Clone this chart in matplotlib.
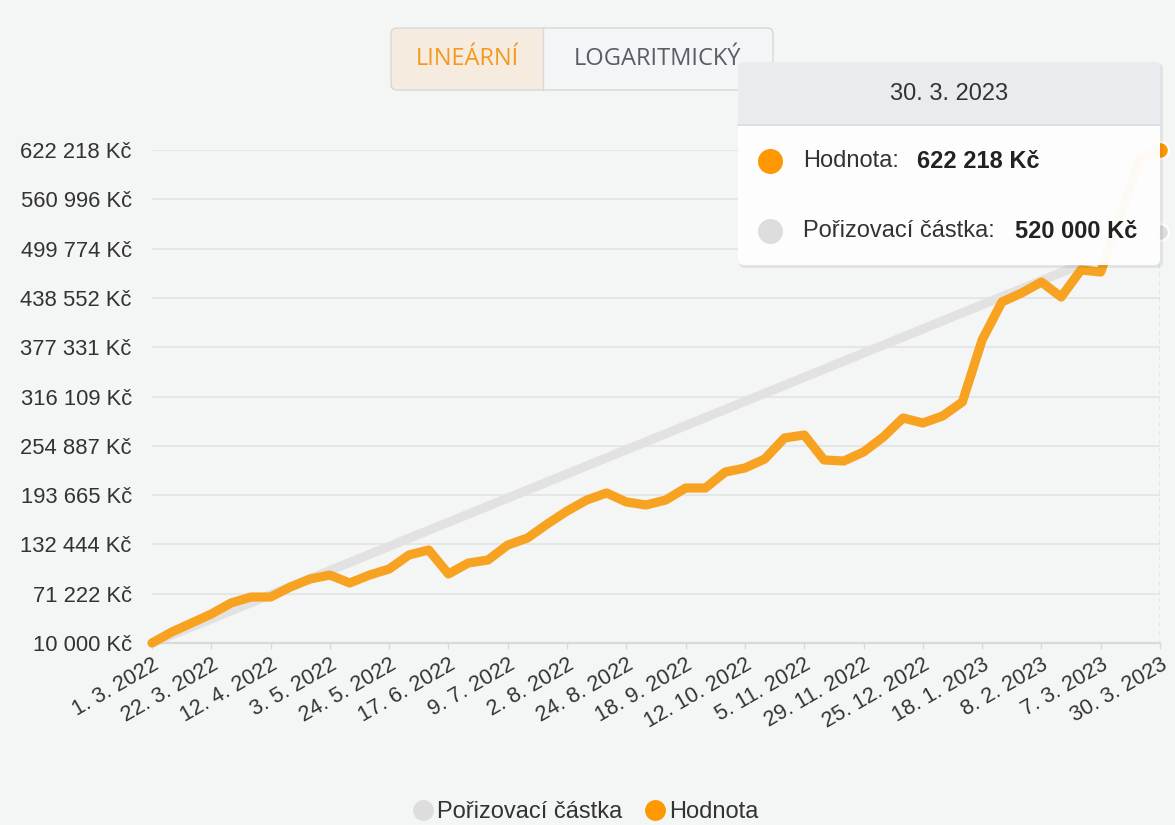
import matplotlib
matplotlib.use('Agg')
import numpy as np
import matplotlib.pyplot as plt
from matplotlib.lines import Line2D
from matplotlib.patches import FancyBboxPatch, Rectangle
from matplotlib.transforms import IdentityTransform

# ------------------------------------------
# Data: weekly portfolio value vs. invested amount (CZK)
# ------------------------------------------
date_labels = [
    '1. 3. 2022', '22. 3. 2022', '12. 4. 2022', '3. 5. 2022', '24. 5. 2022',
    '17. 6. 2022', '9. 7. 2022', '2. 8. 2022', '24. 8. 2022', '18. 9. 2022',
    '12. 10. 2022', '5. 11. 2022', '29. 11. 2022', '25. 12. 2022',
    '18. 1. 2023', '8. 2. 2023', '7. 3. 2023', '30. 3. 2023',
]
label_every = 3  # one date label per three weekly points
tooltip_date = '30. 3. 2023'

hodnota = [
    10000, 23700, 34800, 46000, 59700, 67100, 67100, 79500, 89500, 94400,
    84500, 94400, 101900, 119300, 125500, 95700, 109300, 113100, 131700, 140400,
    157800, 173900, 187600, 196300, 185100, 181400, 187600, 202500, 202500, 222300,
    227300, 238500, 264600, 268300, 237300, 236000, 247200, 265800, 289400, 283200,
    291900, 309300, 386300, 433500, 444600, 458300, 439700, 473200, 470700, 541500,
    612000, 622218,
]

porizovaci_castka = [
    10000, 20000, 30000, 40000, 50000, 60000, 70000, 80000, 90000, 100000,
    110000, 120000, 130000, 140000, 150000, 160000, 170000, 180000, 190000, 200000,
    210000, 220000, 230000, 240000, 250000, 260000, 270000, 280000, 290000, 300000,
    310000, 320000, 330000, 340000, 350000, 360000, 370000, 380000, 390000, 400000,
    410000, 420000, 430000, 440000, 450000, 460000, 470000, 480000, 490000, 500000,
    510000, 520000,
]

y_ticks = [10000, 71222, 132444, 193665, 254887, 316109, 377331, 438552,
           499774, 560996, 622218]


def kc(v):
    return f'{v:,.0f}'.replace(',', ' ') + ' Kč'


plt.rcParams['font.family'] = ['Liberation Sans', 'DejaVu Sans']

W, H = 1175, 825
ORANGE = '#f8a221'
ORANGE_DOT = '#ff9800'
GREY = '#e2e2e2'
GREY_DOT = '#dddddd'
TEXT = '#333333'
px = IdentityTransform()  # pixel coordinates, origin bottom-left

fig = plt.figure(figsize=(W / 100, H / 100), dpi=100, facecolor='#f4f5f5')
ax = fig.add_axes([152 / W, 1 - 643 / H, (1160 - 152) / W, (643 - 150) / H])
ax.set_facecolor('none')

x = np.arange(len(hodnota))

ax.plot(x, porizovaci_castka, color=GREY, lw=6.6, solid_capstyle='round',
        solid_joinstyle='round', clip_on=False, zorder=2)
ax.plot(x, hodnota, color=ORANGE, lw=6.6, solid_capstyle='round',
        solid_joinstyle='round', clip_on=False, zorder=3)

# hovered point
ax.axvline(x[-1], color='#a9a9a9', lw=1, ls=(0, (3, 3)), zorder=1)
ax.plot(x[-1], porizovaci_castka[-1], 'o', ms=12, color=GREY_DOT, mec='white',
        mew=1.5, clip_on=False, zorder=4)
ax.plot(x[-1], hodnota[-1], 'o', ms=12, color=ORANGE_DOT, mec='white',
        mew=1.5, clip_on=False, zorder=4)

ax.set_xlim(0, len(hodnota) - 1)
ax.set_ylim(y_ticks[0], y_ticks[-1])
ax.set_yticks(y_ticks)
ax.set_yticklabels([kc(v) for v in y_ticks])
ax.set_xticks(x[::label_every])
ax.set_xticklabels(date_labels, rotation=30, ha='right', va='top',
                   rotation_mode='anchor')

ax.grid(axis='y', color='#e3e3e3', lw=1.2)
ax.set_axisbelow(True)
for side in ['top', 'right', 'left']:
    ax.spines[side].set_visible(False)
ax.spines['bottom'].set_color('#d9d9d9')
ax.spines['bottom'].set_linewidth(1.6)

ax.tick_params(axis='y', length=0, pad=14.5, labelsize=15.8, labelcolor=TEXT)
ax.tick_params(axis='x', length=4, width=1, color='#d9d9d9', pad=4,
               labelsize=15.5, labelcolor=TEXT)

# Linear / logarithmic switch
fig.add_artist(FancyBboxPatch((391, H - 90), 382, 62, boxstyle='round,pad=0,rounding_size=6',
                              fc='#f4f5f6', ec='none', transform=px, zorder=3))
fig.add_artist(FancyBboxPatch((391, H - 90), 152, 62, boxstyle='round,pad=0,rounding_size=6',
                              fc='#f6ebdf', ec='none', transform=px, zorder=3))
fig.add_artist(Rectangle((520, H - 90), 23, 62, fc='#f6ebdf', ec='none',
                         transform=px, zorder=3))
fig.add_artist(FancyBboxPatch((391, H - 90), 382, 62, boxstyle='round,pad=0,rounding_size=6',
                              fc='none', ec='#d7d7d7', lw=1, transform=px, zorder=3))
fig.add_artist(Line2D([543, 543], [H - 90, H - 28], color='#d7d7d7', lw=1,
                      transform=px, zorder=3))
fig.text(467, H - 59, 'LINEÁRNÍ', transform=px, ha='center', va='center',
         family=['Open Sans', 'DejaVu Sans'], fontsize=17, color='#f39a1e', zorder=4)
fig.text(657, H - 59, 'LOGARITMICKÝ', transform=px, ha='center', va='center',
         family=['Open Sans', 'DejaVu Sans'], fontsize=17, color='#5c5c68', zorder=4)

# Tooltip
tx0, tx1, ty0, ty1, th = 738, 1160, 62, 265, 125
fig.add_artist(FancyBboxPatch((tx0 + 1, H - ty1 - 3), tx1 - tx0 + 2, ty1 - ty0 + 2,
                              boxstyle='round,pad=0,rounding_size=6', fc='black',
                              alpha=0.07, ec='none', transform=px, zorder=5))
fig.add_artist(FancyBboxPatch((tx0, H - ty1), tx1 - tx0, ty1 - ty0,
                              boxstyle='round,pad=0,rounding_size=6', fc='white',
                              alpha=0.96, ec='none', transform=px, zorder=6))
fig.add_artist(FancyBboxPatch((tx0, H - th), tx1 - tx0, th - ty0,
                              boxstyle='round,pad=0,rounding_size=6', fc='#e9ecef',
                              ec='none', transform=px, zorder=7))
fig.add_artist(Rectangle((tx0, H - th), tx1 - tx0, 20, fc='#e9ecef', ec='none',
                         transform=px, zorder=7))
fig.add_artist(Line2D([tx0, tx1], [H - th, H - th], color='#d8dbdf', lw=1.2,
                      transform=px, zorder=8))
fig.text((tx0 + tx1) / 2, H - 94, tooltip_date, transform=px, ha='center',
         va='center', fontsize=17, color=TEXT, zorder=8)

rows = [
    (161, ORANGE_DOT, 'Hodnota:', 917, hodnota[-1]),
    (231, GREY_DOT, 'Pořizovací částka:', 1015, porizovaci_castka[-1]),
]
for ry, col, name, vx, val in rows:
    fig.add_artist(Line2D([770], [H - ry], marker='o', ms=17, color=col, ls='',
                          transform=px, zorder=8))
    fig.text(803, H - ry, name, transform=px, ha='left', va='center',
             fontsize=17, color=TEXT, zorder=8)
    fig.text(vx, H - ry, kc(val), transform=px, ha='left', va='center',
             fontsize=17, fontweight='bold', color='#222222', zorder=8)

# Legend
handles = [
    Line2D([], [], marker='o', ls='', ms=14, color=GREY_DOT),
    Line2D([], [], marker='o', ls='', ms=14, color=ORANGE_DOT),
]
fig.legend(handles, ['Pořizovací částka', 'Hodnota'], loc='center',
           bbox_to_anchor=(585 / W, 1 - 812 / H), ncol=2, frameon=False,
           fontsize=17, handletextpad=0.1, columnspacing=0.9, handlelength=1.0,
           labelcolor=TEXT)

fig.savefig('out.png', dpi=100, facecolor=fig.get_facecolor())
